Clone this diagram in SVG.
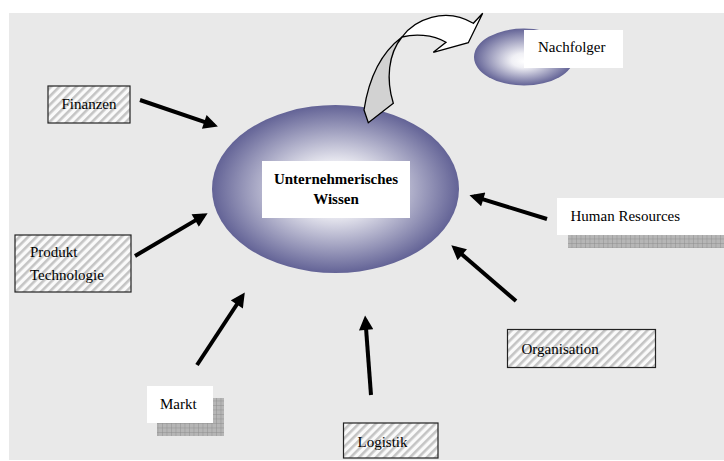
<svg xmlns="http://www.w3.org/2000/svg" width="724" height="461" viewBox="0 0 724 461">
<style>
.lbl{font-family:"Liberation Serif","Times New Roman",serif;font-size:15px;fill:#000}
.bold{font-weight:bold;font-size:15px;text-anchor:middle}
.hatch{fill:url(#hatch);stroke:#222;stroke-width:1.2}
.conn{stroke:#000;stroke-width:4;fill:none;marker-end:url(#ah)}
</style>
<defs>
<pattern id="hatch" width="6" height="6" patternUnits="userSpaceOnUse" patternTransform="rotate(45)">
<rect width="6" height="6" fill="#fafafa"/>
<rect width="2.6" height="6" fill="#c4c4c4"/>
</pattern>
<pattern id="grid" width="4.5" height="4.5" patternUnits="userSpaceOnUse">
<rect width="4.5" height="4.5" fill="#b6b6b6"/>
<path d="M0,0H4.5M0,0V4.5" stroke="#8a8a8a" stroke-width="0.8"/>
</pattern>
<radialGradient id="big" cx="0.5" cy="0.5" r="0.5">
<stop offset="0" stop-color="#ffffff"/>
<stop offset="0.3" stop-color="#eeeef4"/>
<stop offset="1" stop-color="#636396"/>
</radialGradient>
<radialGradient id="small" cx="0.5" cy="0.5" r="0.5" fx="0.5" fy="0.58">
<stop offset="0" stop-color="#ffffff"/>
<stop offset="0.25" stop-color="#f0f0f5"/>
<stop offset="1" stop-color="#636396"/>
</radialGradient>
<marker id="ah" viewBox="0 0 10 10" refX="7" refY="5" markerWidth="4" markerHeight="3.6" orient="auto">
<path d="M0,0L10,5L0,10Z" fill="#000"/>
</marker>
</defs>
<rect x="9" y="13" width="715" height="447" fill="#e9e9e9"/>

<g id="wissen">
<ellipse cx="335.5" cy="189" rx="123.5" ry="84" fill="url(#big)"/>
<rect x="262" y="161" width="148" height="57" fill="#fff"/>
<text class="lbl bold" x="336" y="184">Unternehmerisches</text>
<text class="lbl bold" x="336" y="204">Wissen</text>
</g>

<g id="nachfolger">
<ellipse cx="524" cy="57" rx="50" ry="28.5" fill="url(#small)"/>
<rect x="524" y="30" width="99" height="38" fill="#fff"/>
<text class="lbl" x="538" y="52">Nachfolger</text>
</g>

<g id="curved-arrow" stroke="#000" stroke-width="1.3" stroke-linejoin="miter">
<path d="M402,37 C386,49 370,70 364,110 L368.3,122.7 L393.3,103.3 C386,80 388,54 402,37 Z" fill="#d2d2d2"/>
<path d="M402,37 C414,20 445,6 473.3,23.3 L482.7,13.3 L468.3,42.7 L433.3,52.3 L446,42.3 C432,34 414,34 402,37 Z" fill="#fff"/>
</g>

<g id="finanzen">
<rect class="hatch" x="48" y="86" width="82" height="37"/>
<text class="lbl" x="89" y="109" text-anchor="middle">Finanzen</text>
</g>

<g id="produkt">
<rect class="hatch" x="15" y="235" width="116" height="57"/>
<text class="lbl" x="30" y="257">Produkt</text>
<text class="lbl" x="30" y="280">Technologie</text>
</g>

<g id="hr">
<rect x="568" y="210" width="170" height="38" fill="url(#grid)"/>
<rect x="557" y="198" width="170" height="37" fill="#fff"/>
<text class="lbl" x="570.5" y="221">Human Resources</text>
</g>

<g id="markt">
<rect x="157" y="398" width="67" height="38" fill="url(#grid)"/>
<rect x="147" y="386" width="66" height="37" fill="#fff"/>
<text class="lbl" x="160" y="409">Markt</text>
</g>

<g id="logistik">
<rect class="hatch" x="343.5" y="423" width="94.5" height="35"/>
<text class="lbl" x="357.5" y="447">Logistik</text>
</g>

<g id="organisation">
<rect class="hatch" x="507.5" y="329.5" width="148" height="38"/>
<text class="lbl" x="521.5" y="354">Organisation</text>
</g>

<g id="connectors">
<line class="conn" x1="140" y1="100" x2="213.8" y2="125.1"/>
<line class="conn" x1="135" y1="256" x2="203.9" y2="215.4"/>
<line class="conn" x1="197" y1="365" x2="242.4" y2="296"/>
<line class="conn" x1="371" y1="395" x2="365.4" y2="319.8"/>
<line class="conn" x1="516" y1="301" x2="454.6" y2="248.1"/>
<line class="conn" x1="547" y1="219" x2="473.6" y2="196.4"/>
</g>
</svg>
